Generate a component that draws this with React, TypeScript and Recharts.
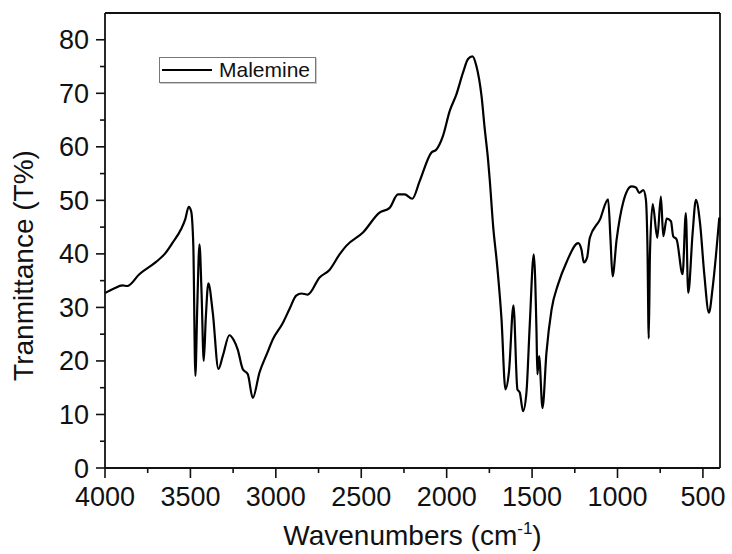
import React from 'react';
import { LineChart, Line, XAxis, YAxis, ReferenceLine, Legend } from 'recharts';

// wavenumber (cm-1) and transmittance (%)
const wavenumbers = [
  4000, 3950, 3897, 3870, 3799, 3701, 3650, 3604, 3555, 3530, 3510, 3496, 3483, 3471, 3460, 3447,
  3435, 3422, 3410, 3395, 3369, 3336, 3310, 3272, 3245, 3223, 3194, 3164, 3135, 3096, 3050, 3018,
  2959, 2920, 2881, 2850, 2813, 2744, 2686, 2627, 2588, 2490, 2393, 2334, 2285, 2246, 2201, 2158,
  2090, 2060, 2022, 1982, 1943, 1904, 1875, 1849, 1826, 1796, 1777, 1758, 1748, 1728, 1705, 1679,
  1656, 1635, 1609, 1586, 1572, 1553, 1533, 1514, 1490, 1474, 1469, 1459, 1439, 1416, 1386, 1348,
  1299, 1230, 1211, 1197, 1178, 1162, 1103, 1055, 1041, 1029, 1005, 967, 918, 892, 873, 849,
  834, 825, 817, 810, 794, 767, 746, 732, 712, 687, 674, 654, 619, 600, 586, 560,
  541, 517, 492, 465, 443, 424, 404,
];
const transmittance = [
  32.7, 33.5, 34.1, 34.0, 36.2, 38.5, 40.0, 42.1, 44.6, 46.5, 48.8, 48.0, 41.5, 17.2, 30.0, 41.8,
  33.0, 20.0, 28.0, 34.5, 29.0, 18.5, 21.0, 24.8, 23.8, 22.1, 18.5, 17.5, 13.1, 17.8, 21.5, 24.0,
  27.1, 29.7, 32.2, 32.6, 32.4, 35.6, 37.0, 39.9, 41.5, 44.0, 47.7, 48.6, 51.1, 51.1, 50.3, 53.6,
  58.9, 59.5, 62.0, 66.7, 69.8, 73.9, 76.4, 76.9, 75.1, 69.5, 63.3, 57.7, 53.9, 45.2, 38.0, 27.8,
  14.7, 18.1, 30.4, 14.7, 14.1, 10.6, 14.1, 26.5, 39.9, 25.3, 17.5, 20.9, 11.2, 21.5, 29.6, 34.3,
  38.4, 42.0, 40.8, 38.4, 39.3, 43.0, 46.4, 50.2, 42.7, 35.8, 42.7, 49.6, 52.6, 52.4, 51.4, 51.9,
  50.2, 42.0, 24.2, 40.0, 49.3, 43.0, 50.7, 43.3, 46.6, 46.1, 43.3, 42.7, 36.2, 47.6, 32.7, 44.0,
  50.1, 45.8, 36.2, 29.0, 33.7, 39.6, 46.8,
];

const xTicks = [4000, 3750, 3500, 3250, 3000, 2750, 2500, 2250, 2000, 1750, 1500, 1250, 1000, 750, 500];
const yTicks = [0, 5, 10, 15, 20, 25, 30, 35, 40, 45, 50, 55, 60, 65, 70, 75, 80];

const data = wavenumbers.map((w, i) => ({ w, t: transmittance[i] }));

const FONT = '"Liberation Sans", Arial, sans-serif';
const INK = '#111';

const XTick = (props: any) => {
  const { x, y, payload } = props;
  const major = payload.value % 500 === 0;
  return (
    <g>
      <line x1={x} y1={y} x2={x} y2={y + (major ? 10 : 5)} stroke={INK} strokeWidth={1.6} />
      {major && (
        <text x={x} y={y + 38} textAnchor="middle" fontSize={27} fontFamily={FONT} fill={INK}>
          {payload.value}
        </text>
      )}
    </g>
  );
};

const YTick = (props: any) => {
  const { x, y, payload } = props;
  const major = payload.value % 10 === 0;
  return (
    <g>
      <line x1={x - (major ? 9 : 5)} y1={y} x2={x} y2={y} stroke={INK} strokeWidth={1.6} />
      {major && (
        <text x={x - 16} y={y + 9.5} textAnchor="end" fontSize={27} fontFamily={FONT} fill={INK}>
          {payload.value}
        </text>
      )}
    </g>
  );
};

const XTitle = (props: any) => {
  const { x, y, width } = props.viewBox;
  return (
    <text x={x + width / 2} y={y + 77} textAnchor="middle" fontSize={28} fontFamily={FONT} fill={INK}>
      Wavenumbers (cm
      <tspan dy={-11} fontSize={17}>-1</tspan>
      <tspan dy={11}>)</tspan>
    </text>
  );
};

const YTitle = (props: any) => {
  const { y, height } = props.viewBox;
  const cx = 33;
  const cy = y + height / 2 + 25;
  return (
    <text x={cx} y={cy} transform={`rotate(-90 ${cx} ${cy})`} textAnchor="middle" fontSize={28} fontFamily={FONT} fill={INK}>
      Tranmittance (T%)
    </text>
  );
};

const LegendBox = () => (
  <div
    style={{
      width: 157,
      height: 26,
      boxSizing: 'border-box',
      border: '1px solid #777',
      boxShadow: '1px 1px 0 #ccc',
      background: '#fff',
      display: 'flex',
      alignItems: 'center',
      fontFamily: FONT,
      fontSize: 21,
      color: INK,
    }}
  >
    <div style={{ width: 50, height: 2, background: '#000', marginLeft: 2, marginRight: 7 }} />
    <span>Malemine</span>
  </div>
);

export default function App() {
  return (
    <div style={{ position: 'absolute', left: 0, top: 0, background: '#fff' }}>
      <LineChart width={732} height={554} data={data} margin={{ top: 13, right: 12, bottom: 0, left: 0 }}>
        <XAxis
          dataKey="w"
          type="number"
          domain={[400, 4000]}
          reversed
          ticks={xTicks}
          interval={0}
          height={86}
          tickSize={0}
          tickMargin={0}
          tickLine={false}
          tick={<XTick />}
          axisLine={{ stroke: INK, strokeWidth: 1.8 }}
          label={<XTitle />}
        />
        <YAxis
          type="number"
          domain={[0, 85]}
          ticks={yTicks}
          interval={0}
          width={105}
          tickSize={0}
          tickMargin={0}
          tickLine={false}
          tick={<YTick />}
          axisLine={{ stroke: INK, strokeWidth: 1.8 }}
          label={<YTitle />}
        />
        <ReferenceLine y={85} stroke={INK} strokeWidth={1.8} />
        <ReferenceLine x={400} stroke={INK} strokeWidth={1.8} />
        <Legend
          layout="horizontal"
          verticalAlign="middle"
          align="center"
          wrapperStyle={{ left: 159, top: 57, width: 157, height: 26 }}
          content={() => <LegendBox />}
        />
        <Line
          type="monotone"
          dataKey="t"
          stroke="#000"
          strokeWidth={2.2}
          dot={false}
          isAnimationActive={false}
        />
      </LineChart>
    </div>
  );
}
